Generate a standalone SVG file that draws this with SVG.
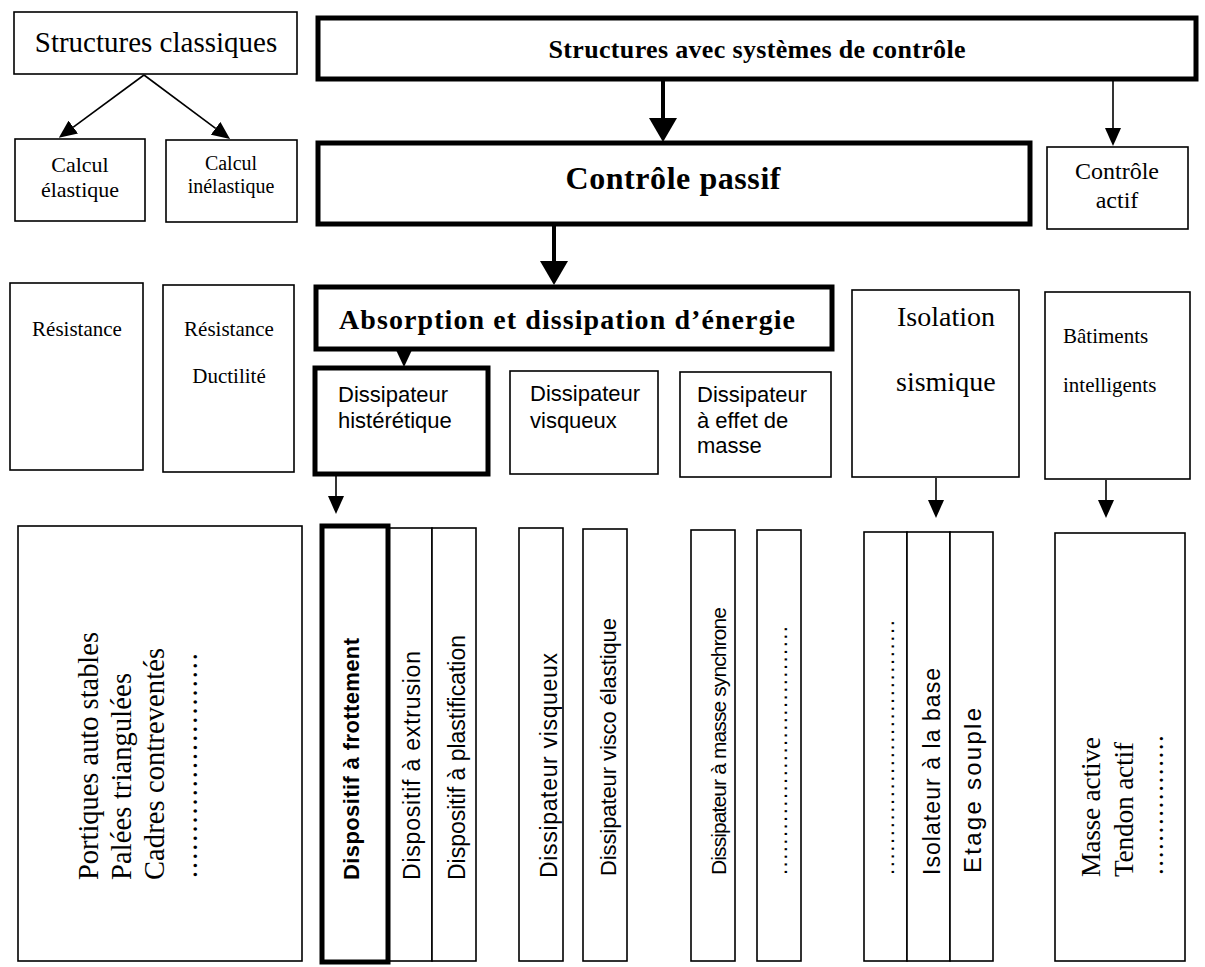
<svg xmlns="http://www.w3.org/2000/svg" width="1205" height="967" viewBox="0 0 1205 967">
<style>
.bx{fill:#fff;stroke:#000;stroke-width:1.6}
.tk{fill:#fff;stroke:#000;stroke-width:5}
.sr{font-family:"Liberation Serif","Times New Roman",serif;fill:#000}
.ss{font-family:"Liberation Sans",Arial,sans-serif;fill:#000}
.b{font-weight:bold}
.c{text-anchor:middle}
.ln{stroke:#000;stroke-width:1.6;fill:none}
.lk{stroke:#000;stroke-width:4;fill:none}
</style>
<defs>
<marker id="ah" markerUnits="userSpaceOnUse" viewBox="0 0 18 16" refX="0" refY="8" markerWidth="18" markerHeight="16" orient="auto"><path d="M0,0 L18,8 L0,16 z" fill="#000"/></marker>
<marker id="ahB" markerUnits="userSpaceOnUse" viewBox="0 0 24 28" refX="0" refY="14" markerWidth="24" markerHeight="28" orient="auto"><path d="M0,0 L24,14 L0,28 z" fill="#000"/></marker>
</defs>
<rect width="1205" height="967" fill="#fff"/>

<g id="connectors">
<line class="ln" x1="144" y1="75" x2="73.3" y2="127.1" marker-end="url(#ah)"/>
<line class="ln" x1="144" y1="75" x2="215.6" y2="128.3" marker-end="url(#ah)"/>
<line class="lk" x1="663" y1="80" x2="663" y2="118" marker-end="url(#ahB)"/>
<line class="ln" x1="1113" y1="80" x2="1113" y2="128" marker-end="url(#ah)"/>
<line class="lk" x1="554" y1="225" x2="554" y2="261" marker-end="url(#ahB)"/>
<polygon points="396,350 412,350 404,367" fill="#000"/>
<line class="ln" x1="336" y1="476" x2="336" y2="496" marker-end="url(#ah)"/>
<line class="ln" x1="936" y1="478" x2="936" y2="500" marker-end="url(#ah)"/>
<line class="ln" x1="1106" y1="480" x2="1106" y2="500" marker-end="url(#ah)"/>
</g>

<g id="n-classiques"><rect class="bx" x="14" y="12" width="283" height="62"/>
<text class="sr c" x="156" y="52" font-size="29">Structures classiques</text></g>

<g id="n-avec"><rect class="tk" x="318" y="18" width="878" height="61"/>
<text class="sr b c" x="757" y="58" font-size="26" textLength="417" lengthAdjust="spacing">Structures avec systèmes de contrôle</text></g>

<g id="n-elastique"><rect class="bx" x="15" y="139" width="130" height="82"/>
<text class="sr c" x="80" y="172" font-size="22">Calcul</text>
<text class="sr c" x="80" y="197" font-size="22">élastique</text></g>

<g id="n-inelastique"><rect class="bx" x="166" y="140" width="131" height="82"/>
<text class="sr c" x="231" y="170" font-size="20">Calcul</text>
<text class="sr c" x="231" y="193" font-size="20">inélastique</text></g>

<g id="n-passif"><rect class="tk" x="318" y="143" width="712" height="81"/>
<text class="sr b c" x="673" y="189" font-size="32" textLength="215" lengthAdjust="spacing">Contrôle passif</text></g>

<g id="n-actif"><rect class="bx" x="1047" y="147" width="141" height="82"/>
<text class="sr c" x="1117" y="179" font-size="24">Contrôle</text>
<text class="sr c" x="1117" y="208" font-size="24">actif</text></g>

<g id="n-resistance"><rect class="bx" x="10" y="283" width="133" height="187"/>
<text class="sr c" x="77" y="336" font-size="21">Résistance</text></g>

<g id="n-ductilite"><rect class="bx" x="163" y="285" width="131" height="187"/>
<text class="sr c" x="229" y="336" font-size="21">Résistance</text>
<text class="sr c" x="229" y="383" font-size="21">Ductilité</text></g>

<g id="n-absorption"><rect class="tk" x="316" y="287" width="516" height="62"/>
<text class="sr b" x="339" y="329" font-size="28" textLength="456" lengthAdjust="spacing">Absorption et dissipation d’énergie</text></g>

<g id="n-hysteretique"><rect class="tk" x="315" y="368" width="173" height="106"/>
<text class="ss" x="338" y="402" font-size="22">Dissipateur</text>
<text class="ss" x="338" y="428" font-size="22">histérétique</text></g>

<g id="n-visqueux"><rect class="bx" x="510" y="371" width="148" height="103"/>
<text class="ss" x="530" y="401" font-size="22">Dissipateur</text>
<text class="ss" x="530" y="428" font-size="22">visqueux</text></g>

<g id="n-masse"><rect class="bx" x="680" y="372" width="151" height="105"/>
<text class="ss" x="697" y="402" font-size="22">Dissipateur</text>
<text class="ss" x="697" y="428" font-size="22">à effet de</text>
<text class="ss" x="697" y="453" font-size="22">masse</text></g>

<g id="n-isolation"><rect class="bx" x="852" y="290" width="167" height="187"/>
<text class="sr" x="897" y="326" font-size="28">Isolation</text>
<text class="sr" x="896" y="391" font-size="28">sismique</text></g>

<g id="n-batiments"><rect class="bx" x="1045" y="292" width="145" height="187"/>
<text class="sr" x="1063" y="343" font-size="21">Bâtiments</text>
<text class="sr" x="1063" y="392" font-size="21">intelligents</text></g>

<g id="n-classiques-liste"><rect class="bx" x="18" y="526" width="284" height="435"/>
<text class="sr" transform="translate(98,880) rotate(-90)" font-size="28.5" textLength="248" lengthAdjust="spacing">Portiques auto stables</text>
<text class="sr" transform="translate(131,880) rotate(-90)" font-size="28.5" textLength="207" lengthAdjust="spacing">Palées triangulées</text>
<text class="sr" transform="translate(164,880) rotate(-90)" font-size="28.5" textLength="232" lengthAdjust="spacing">Cadres contreventés</text>
<text class="sr" transform="translate(197,878) rotate(-90)" font-size="28.5" textLength="225" lengthAdjust="spacing">.........................</text></g>

<g id="n-extrusion"><rect class="bx" x="388" y="528" width="44" height="433"/>
<text class="ss" transform="translate(420,880) rotate(-90)" font-size="23" textLength="229" lengthAdjust="spacing">Dispositif à extrusion</text></g>

<g id="n-plastification"><rect class="bx" x="432" y="528" width="44" height="433"/>
<text class="ss" transform="translate(465,880) rotate(-90)" font-size="23" textLength="245" lengthAdjust="spacing">Dispositif à plastification</text></g>

<g id="n-frottement"><rect class="tk" x="322" y="526" width="66" height="436"/>
<text class="ss b" transform="translate(359,880) rotate(-90)" font-size="22" textLength="242" lengthAdjust="spacing">Dispositif à frottement</text></g>

<g id="n-dvisqueux"><rect class="bx" x="519" y="528" width="44" height="433"/>
<text class="ss" transform="translate(557,878) rotate(-90)" font-size="23" textLength="225" lengthAdjust="spacing">Dissipateur visqueux</text></g>

<g id="n-visco"><rect class="bx" x="583" y="529" width="44" height="432"/>
<text class="ss" transform="translate(616,876) rotate(-90)" font-size="22" textLength="258" lengthAdjust="spacing">Dissipateur visco élastique</text></g>

<g id="n-synchrone"><rect class="bx" x="691" y="530" width="44" height="431"/>
<text class="ss" transform="translate(726,875) rotate(-90)" font-size="21" textLength="268" lengthAdjust="spacing">Dissipateur à masse synchrone</text></g>

<g id="n-dots1"><rect class="bx" x="757" y="530" width="44" height="431"/>
<text class="ss" transform="translate(787,875) rotate(-90)" font-size="22" textLength="249" lengthAdjust="spacing">.................................</text></g>

<g id="n-iso-dots"><rect class="bx" x="864" y="532" width="43" height="429"/>
<text class="ss" transform="translate(894,875) rotate(-90)" font-size="22" textLength="255" lengthAdjust="spacing">.................................</text></g>

<g id="n-isolateur"><rect class="bx" x="907" y="532" width="43" height="429"/>
<text class="ss" transform="translate(940,875) rotate(-90)" font-size="23" textLength="207" lengthAdjust="spacing">Isolateur à la base</text></g>

<g id="n-etage"><rect class="bx" x="950" y="532" width="43" height="429"/>
<text class="ss" transform="translate(981,873) rotate(-90)" font-size="24" textLength="165" lengthAdjust="spacing">Etage souple</text></g>

<g id="n-actif-liste"><rect class="bx" x="1055" y="533" width="130" height="428"/>
<text class="sr" transform="translate(1100,877) rotate(-90)" font-size="27.5" textLength="140" lengthAdjust="spacing">Masse active</text>
<text class="sr" transform="translate(1133,877) rotate(-90)" font-size="27.5" textLength="135" lengthAdjust="spacing">Tendon actif</text>
<text class="sr" transform="translate(1163,875) rotate(-90)" font-size="27.5" textLength="140" lengthAdjust="spacing">.................</text></g>
</svg>
